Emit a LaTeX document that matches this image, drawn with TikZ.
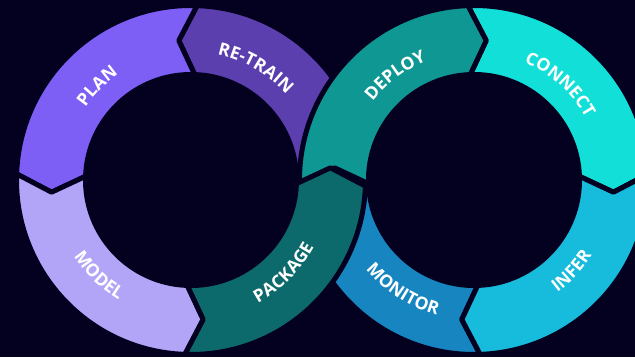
\documentclass[tikz,border=0pt]{standalone}
\usepackage{fontspec}
\setmainfont{Open Sans}
\usetikzlibrary{decorations.text}
\definecolor{bg}{HTML}{04001F}
\definecolor{cplan}{HTML}{7D5FF5}
\definecolor{cretrain}{HTML}{5C3FAE}
\definecolor{cmodel}{HTML}{B2A5F7}
\definecolor{cpackage}{HTML}{0D6A6C}
\definecolor{cdeploy}{HTML}{0F9794}
\definecolor{cconnect}{HTML}{12E0D8}
\definecolor{cinfer}{HTML}{17BBDB}
\definecolor{cmonitor}{HTML}{1786C0}
\newcommand{\RingOut}{174.5pt}
\newcommand{\RingIn}{105.5pt}
\newcommand{\RingMid}{140pt}
\newcommand{\labelfont}{\color{white}\fontsize{17.5}{20}\selectfont\bfseries}
% #1 centre, #2 tail angle, #3 head angle, #4 tail offset, #5 head offset, #6 colour
\newcommand{\ringseg}[6]{%
  \fill[#6, draw=bg, line width=5pt, line join=round]
    ([shift={(#2:\RingOut)}]#1) arc[start angle=#2, end angle=#3, radius=\RingOut]
    -- ([shift={({#3+(#5)}:\RingMid)}]#1)
    -- ([shift={(#3:\RingIn)}]#1)
    arc[start angle=#3, end angle=#2, radius=\RingIn]
    -- ([shift={({#2+(#4)}:\RingMid)}]#1) -- cycle;}
\newcommand{\toplabel}[3]{%
  \path[decorate,decoration={text along path,text align=center,text={|\labelfont|#3}}]
    ([shift={({#2+40}:128pt)}]#1) arc[start angle={#2+40}, end angle={#2-40}, radius=128pt];}
\newcommand{\botlabel}[3]{%
  \path[decorate,decoration={text along path,text align=center,text={|\labelfont|#3}}]
    ([shift={({#2-40}:140pt)}]#1) arc[start angle={#2-40}, end angle={#2+40}, radius=140pt];}
\begin{document}
\begin{tikzpicture}[x=1pt,y=1pt]
\fill[bg] (0,0) rectangle (635,357);
\useasboundingbox (0,0) rectangle (635,357);
\clip (0,0) rectangle (635,357);
\coordinate (C1) at (191,177);
\coordinate (C2) at (474,177);
% lower segments (partly hidden)
\ringseg{C1}{-2}{88}{0}{7}{cretrain}
\ringseg{C2}{272}{182}{-7}{0}{cmonitor}
\ringseg{C1}{88}{178}{7}{7}{cplan}
\ringseg{C1}{178}{268}{7}{7}{cmodel}
\ringseg{C2}{92}{2}{-7}{-7}{cconnect}
\ringseg{C2}{2}{-88}{-7}{-7}{cinfer}
\ringseg{C2}{182}{92}{-7}{-7}{cdeploy}
\ringseg{C1}{268}{358}{7}{7}{cpackage}
% labels
\toplabel{C1}{135}{PLAN}
\toplabel{C1}{60}{RE-TRAIN}
\botlabel{C1}{226}{MODEL}
\botlabel{C1}{-45}{PACKAGE}
\toplabel{C2}{127}{DEPLOY}
\toplabel{C2}{48}{CONNECT}
\botlabel{C2}{237}{MONITOR}
\botlabel{C2}{-43}{INFER}
\end{tikzpicture}
\end{document}
